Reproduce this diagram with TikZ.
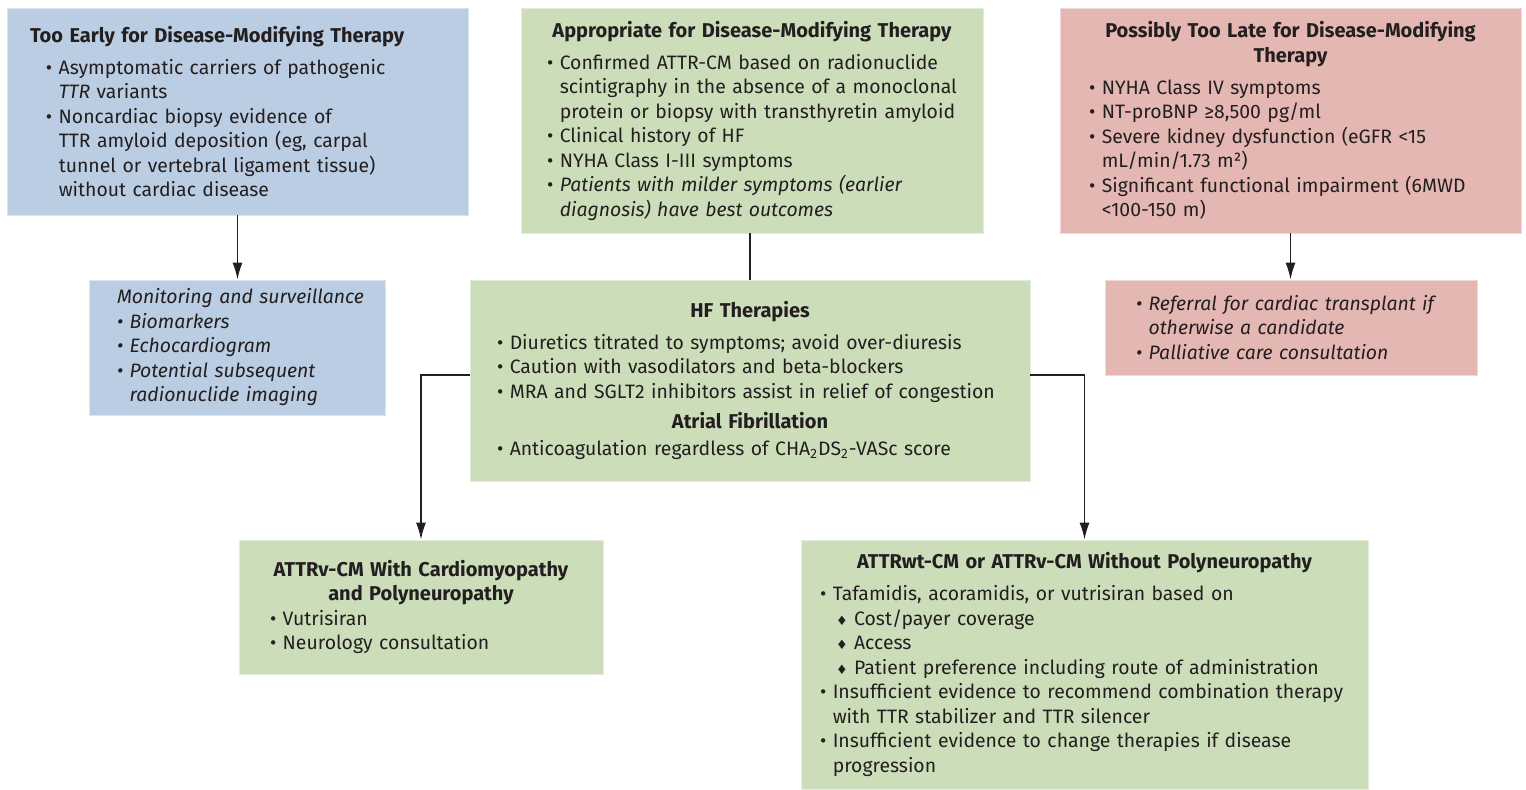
\documentclass[tikz,border=0pt]{standalone}
\usepackage{fontspec}
\setmainfont{Fira Sans}
\newfontfamily\symfont{DejaVu Sans}
\usetikzlibrary{arrows.meta}
\setlength{\parindent}{0pt}
\definecolor{earlyblue}{RGB}{187,205,227}
\definecolor{okgreen}{RGB}{204,222,185}
\definecolor{latered}{RGB}{229,183,178}
\definecolor{ink}{RGB}{35,31,32}
\newcommand{\hdfont}{\fontsize{10}{12.25}\selectfont\bfseries}
\newcommand{\hd}[2][3.75pt]{{\centering\hdfont #2\par}\vspace{#1}}
\newcommand{\bl}[1]{\mbox{\textbullet\ #1}}
\newcommand{\cl}[1]{\mbox{\hphantom{\textbullet\ }#1}}
\newcommand{\dm}[1]{\mbox{\hspace*{8pt}{\symfont\fontsize{6.5}{7}\selectfont ♦}\ #1}}
\tikzset{every picture/.style={x=0.5pt,y=-0.5pt},
  box/.style={rectangle, inner sep=0pt, fill=#1, draw=#1!55!white, line width=0.4pt},
  txt/.style={inner sep=0pt, align=left, text=ink, font=\fontsize{9.7}{12.25}\selectfont},
  arr/.style={-{Latex[length=8.5pt,width=5pt]}, line width=0.75pt, draw=ink},
  link/.style={line width=0.75pt, draw=ink}}
\begin{document}
\begin{tikzpicture}
\useasboundingbox (0,0) rectangle (1526,789);
% boxes
\node (early) [box=earlyblue, minimum width=230.5pt, minimum height=103.5pt] at (237.5,111.5) {};
\node (approp) [box=okgreen, minimum width=231pt, minimum height=112.5pt] at (752,120.5) {};
\node (late) [box=latered, minimum width=230.5pt, minimum height=112.5pt] at (1290.5,120.5) {};
\node (monitor) [box=earlyblue, minimum width=148pt, minimum height=67.5pt] at (237,347.5) {};
\node (hf) [box=okgreen, minimum width=280pt, minimum height=100.5pt] at (750,380.5) {};
\node (referral) [box=latered, minimum width=186pt, minimum height=47.5pt] at (1291,327.5) {};
\node (withpn) [box=okgreen, minimum width=182pt, minimum height=67pt] at (421,607) {};
\node (withoutpn) [box=okgreen, minimum width=283.5pt, minimum height=124.5pt] at (1084.5,664.5) {};

% texts
\node (early-t) [txt, text width=207.5pt] at (early) {%
  {\hdfont Too Early for Disease-Modifying Therapy}\\[3.75pt]
  \hspace*{8pt}\bl{Asymptomatic carriers of pathogenic}\\
  \hspace*{8pt}\cl{\textit{TTR} variants}\\
  \hspace*{8pt}\bl{Noncardiac biopsy evidence of}\\
  \hspace*{8pt}\cl{TTR amyloid deposition (eg, carpal}\\
  \hspace*{8pt}\cl{tunnel or vertebral ligament tissue)}\\
  \hspace*{8pt}\cl{without cardiac disease}};
\node (approp-t) [txt, text width=205pt] at (approp) {%
  \hd{Appropriate for Disease-Modifying Therapy}
  \bl{Confirmed ATTR-CM based on radionuclide}\\
  \cl{scintigraphy in the absence of a monoclonal}\\
  \cl{protein or biopsy with transthyretin amyloid}\\
  \bl{Clinical history of HF}\\
  \bl{NYHA Class I-III symptoms}\\
  \bl{\textit{Patients with milder symptoms (earlier}}\\
  \cl{\textit{diagnosis) have best outcomes}}};
\node (late-t) [txt, text width=201.5pt] at (late) {%
  \hd{Possibly Too Late for Disease-Modifying\\Therapy}
  \bl{NYHA Class IV symptoms}\\
  \bl{NT-proBNP ≥8,500 pg/ml}\\
  \bl{Severe kidney dysfunction (eGFR <15}\\
  \cl{mL/min/1.73 m²)}\\
  \bl{Significant functional impairment (6MWD}\\
  \cl{<100-150 m)}};
\node (monitor-t) [txt, text width=120pt, font=\fontsize{9.7}{12.25}\selectfont\itshape] at (monitor) {%
  \mbox{Monitoring and surveillance}\\
  \bl{Biomarkers}\\
  \bl{Echocardiogram}\\
  \bl{Potential subsequent}\\
  \cl{radionuclide imaging}};
\node (hf-t) [txt, text width=253pt] at (hf) {%
  \hd{HF Therapies}
  \bl{Diuretics titrated to symptoms; avoid over-diuresis}\\
  \bl{Caution with vasodilators and beta-blockers}\\
  \bl{MRA and SGLT2 inhibitors assist in relief of congestion}\par
  \vspace{3pt}
  \hd[1.25pt]{Atrial Fibrillation}
  \bl{Anticoagulation regardless of CHA\textsubscript{2}DS\textsubscript{2}-VASc score}};
\node (referral-t) [txt, text width=155pt, font=\fontsize{9.7}{12.25}\selectfont\itshape] at (referral) {%
  \bl{Referral for cardiac transplant if}\\
  \cl{otherwise a candidate}\\
  \bl{Palliative care consultation}};
\node (withpn-t) [txt, text width=151pt] at (withpn) {%
  \hd[0pt]{ATTRv-CM With Cardiomyopathy\\and Polyneuropathy}
  \bl{Vutrisiran}\\
  \bl{Neurology consultation}};
\node (withoutpn-t) [txt, text width=264.5pt] at (withoutpn) {%
  \hd{ATTRwt-CM or ATTRv-CM Without Polyneuropathy}
  \bl{Tafamidis, acoramidis, or vutrisiran based on}\\
  \dm{Cost/payer coverage}\\
  \dm{Access}\\
  \dm{Patient preference including route of administration}\\
  \bl{Insufficient evidence to recommend combination therapy}\\
  \cl{with TTR stabilizer and TTR silencer}\\
  \bl{Insufficient evidence to change therapies if disease}\\
  \cl{progression}};

% connectors
\draw[arr] (early.south) -- (early.south |- monitor.north);
\draw[link] (hf.north |- approp.south) -- (hf.north);
\draw[arr] (late.south) -- (late.south |- referral.north);
\draw[arr] ([yshift=2.75pt]hf.west) -| (withpn.north);
\draw[arr] ([yshift=2.75pt]hf.east) -| (withoutpn.north);
\end{tikzpicture}
\end{document}
